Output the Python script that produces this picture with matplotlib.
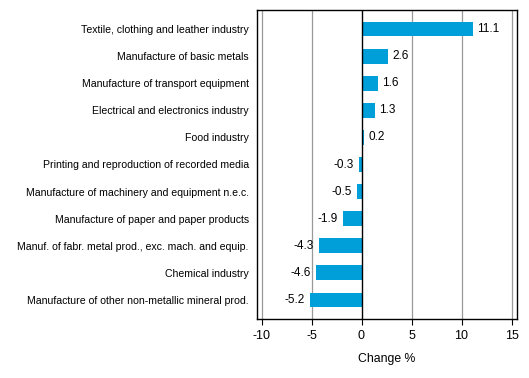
import matplotlib
matplotlib.use("Agg")
import matplotlib.pyplot as plt

categories = [
    "Textile, clothing and leather industry",
    "Manufacture of basic metals",
    "Manufacture of transport equipment",
    "Electrical and electronics industry",
    "Food industry",
    "Printing and reproduction of recorded media",
    "Manufacture of machinery and equipment n.e.c.",
    "Manufacture of paper and paper products",
    "Manuf. of fabr. metal prod., exc. mach. and equip.",
    "Chemical industry",
    "Manufacture of other non-metallic mineral prod.",
]
values = [11.1, 2.6, 1.6, 1.3, 0.2, -0.3, -0.5, -1.9, -4.3, -4.6, -5.2]
xticks = [-10, -5, 0, 5, 10, 15]
xlabel = "Change %"

plt.rcParams['font.family'] = ['Liberation Sans', 'DejaVu Sans']
fig = plt.figure(figsize=(5.29, 3.78), dpi=100)
ax = fig.add_axes([257/529, 1 - 319/378, (517 - 257)/529, (319 - 10)/378])

y = list(range(len(categories)))
ax.barh(y, values, height=0.55, color="#009FDA", zorder=3)
ax.set_xlim(-10.45, 15.55)
ax.set_ylim(len(categories) - 1 + 0.7, -0.7)
ax.set_yticks(y)
ax.set_yticklabels(categories, fontsize=7.6)
ax.tick_params(axis='y', length=0, pad=6)
ax.set_xticks(xticks)
ax.set_xticklabels([str(t) for t in xticks], fontsize=9)
ax.tick_params(axis='x', length=4, width=0.8, color="black", pad=4)
for t in xticks:
    if t != 0:
        ax.axvline(t, color="#999999", lw=0.9, zorder=1)
ax.axvline(0, color="black", lw=1.0, zorder=4)
for s in ax.spines.values():
    s.set_linewidth(1.0)
    s.set_color("black")

for yi, v in zip(y, values):
    if v >= 0:
        ax.text(v + 0.5, yi, f"{v:.1f}", va="center", ha="left", fontsize=8.5)
    else:
        ax.text(v - 0.5, yi, f"{v:.1f}", va="center", ha="right", fontsize=8.5)

ax.set_xlabel(xlabel, fontsize=8.8, labelpad=8)
fig.savefig("out.png", dpi=100)
